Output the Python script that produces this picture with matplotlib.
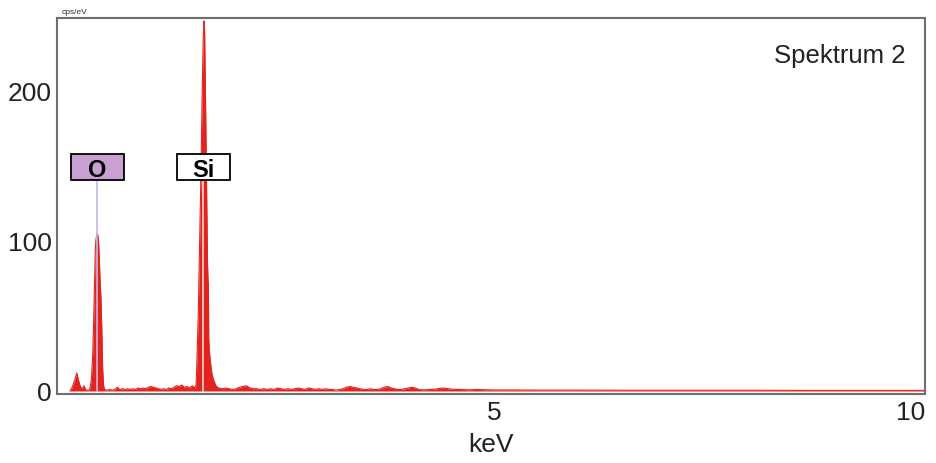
import matplotlib
matplotlib.use("Agg")
import matplotlib.pyplot as plt
from matplotlib.patches import Rectangle
import numpy as np

plt.rcParams['font.family'] = ['Liberation Sans', 'DejaVu Sans']

# EDX spectrum, energy in keV, intensity in cps/eV
# C + O region
e_low = [0.07, 0.10, 0.13, 0.15, 0.17, 0.19, 0.21, 0.235, 0.25, 0.27,
         0.29, 0.305, 0.32, 0.335, 0.345, 0.355, 0.365, 0.375, 0.388, 0.40,
         0.41, 0.42, 0.43, 0.44, 0.45, 0.46, 0.47]
c_low = [0, 3, 8, 12, 7, 3, 1.5, 3.5, 1, 0.5,
         0.5, 2, 8, 25, 45, 70, 95, 102, 105, 102,
         90, 74, 62, 42, 15, 4, 1]
# background between O and Si
e_mid = [0.50, 0.53, 0.56, 0.59, 0.62, 0.65, 0.68, 0.71, 0.74, 0.77,
         0.80, 0.83, 0.86, 0.89, 0.92, 0.95, 0.98, 1.01, 1.04, 1.07,
         1.10, 1.13, 1.16, 1.19, 1.22, 1.25, 1.28, 1.31, 1.34, 1.37,
         1.40, 1.43, 1.46, 1.49]
c_mid = [0.5, 1, 0.5, 1, 2.5, 1, 1.5, 1, 1.5, 1,
         1.5, 1, 2, 1.5, 2, 1.5, 2.5, 3, 2.5, 2,
         1.5, 1, 1.5, 1, 2, 1.5, 2.5, 3.5, 3, 4,
         2.5, 3, 2, 3.5]
# Si K line with its shoulder
e_si = [1.52, 1.535, 1.545, 1.56, 1.575, 1.59, 1.605, 1.618, 1.628, 1.634,
        1.64, 1.65, 1.66, 1.668, 1.674, 1.678, 1.682, 1.69, 1.70, 1.72,
        1.74, 1.77, 1.80]
c_si = [2, 4, 20, 50, 95, 140, 195, 235, 246, 240,
        215, 170, 120, 85, 73, 72, 35, 26, 20, 11,
        7, 3, 2]
# tail up to 4.2 keV
e_tail = [1.84, 1.88, 1.92, 1.96, 2.00, 2.04, 2.08, 2.12, 2.16, 2.20,
          2.24, 2.28, 2.32, 2.36, 2.40, 2.44, 2.48, 2.52, 2.56, 2.60,
          2.64, 2.68, 2.72, 2.76, 2.80, 2.84, 2.88, 2.92, 2.96, 3.00,
          3.04, 3.08, 3.12, 3.16, 3.20, 3.24, 3.28, 3.32, 3.36, 3.40,
          3.44, 3.48, 3.52, 3.56, 3.60, 3.64, 3.68, 3.72, 3.76, 3.80,
          3.84, 3.88, 3.92, 3.96, 4.00, 4.04, 4.08, 4.12, 4.16, 4.20]
c_tail = [1.5, 2, 1.5, 1, 1.5, 2.5, 3, 3.5, 2, 1.5,
          1.5, 1, 1.5, 1, 1.5, 1, 2, 1.5, 1, 1.5,
          1, 1.5, 2, 1.5, 1, 2, 1.5, 1, 1.5, 1,
          1.5, 1, 1, 0.5, 1, 1.5, 2.5, 3, 2.5, 2,
          1.5, 1, 1, 1.5, 1, 1, 1.5, 2.5, 3, 2,
          1.5, 1, 1, 1.5, 2, 2.5, 2, 1, 0.8, 0.8]
# high energy end
e_high = [4.3, 4.4, 4.5, 4.6, 4.7, 4.8, 4.9, 5.0, 5.2, 5.5,
          6.0, 6.5, 7.0, 7.5, 8.0, 8.5, 9.0, 9.5, 10.0]
c_high = [1.2, 2, 1.2, 1, 0.8, 1, 0.8, 0.7, 0.7, 0.6,
          0.6, 0.5, 0.5, 0.5, 0.5, 0.4, 0.4, 0.4, 0.4]

energy = np.array(e_low + e_mid + e_si + e_tail + e_high)
counts = np.array(c_low + c_mid + c_si + c_tail + c_high)

# element markers: name, line energy, box colour
elements = ["O", "Si"]
line_kev = [0.388, 1.618]
box_fill = ["#c9a0d2", "white"]
line_col = ["#c2b8e6", "#f4d6d6"]

red = "#e3241e"

fig = plt.figure(figsize=(9.36, 4.64), dpi=100)
ax = fig.add_axes([57/936, 69/464, 868/936, 376/464])

ax.fill_between(energy, 0, counts, color=red, lw=0)
ax.plot(energy, counts, color=red, lw=0.8)

box_w = 0.615
box_bot, box_top = 140.3, 157.6
for name, ek, fc, lc in zip(elements, line_kev, box_fill, line_col):
    ax.plot([ek, ek], [0, box_bot], color=lc, lw=1.2, zorder=3)
    ax.add_patch(Rectangle((ek - box_w/2, box_bot), box_w, box_top - box_bot,
                           facecolor=fc, edgecolor="black", lw=1.3, zorder=4))
    ax.text(ek, (box_bot + box_top)/2, name, ha="center", va="center_baseline",
            fontsize=17, fontweight="bold", zorder=5)

ax.set_xlim(-0.08, 10.0)
ax.set_ylim(-2, 248)
ax.set_xticks([5, 10])
ax.set_xticklabels(["5", "10"])
ax.get_xticklabels()[1].set_horizontalalignment("right")
ax.set_yticks([0, 100, 200])
ax.tick_params(length=0, labelsize=19, colors="#222222", pad=4)
ax.set_xlabel("keV", fontsize=19, color="#222222", labelpad=6)

for s in ax.spines.values():
    s.set_color("#6e6e6e")
    s.set_linewidth(1.5)

fig.text(905/936, 1 - 56/464, "Spektrum 2", ha="right", va="center",
         fontsize=18.5, color="#222222")
fig.text(62/936, 1 - 12/464, "cps/eV", ha="left", va="center",
         fontsize=6, color="#333333")

fig.savefig("out.png", dpi=100)
